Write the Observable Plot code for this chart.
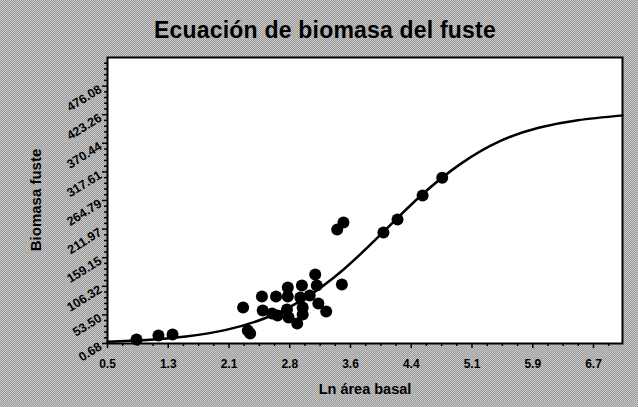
<!DOCTYPE html>
<html><head><meta charset="utf-8">
<script src="https://cdn.jsdelivr.net/npm/d3@7"></script>
<script src="https://cdn.jsdelivr.net/npm/@observablehq/plot@0.6"></script>
<style>
body{margin:0}
#c{width:638px;height:407px;position:relative;overflow:hidden;background:repeating-conic-gradient(#9a9a9a 0 25%,#c9c9c9 0 50%) 0 0/2px 2px;font-family:"Liberation Sans",Arial,sans-serif;color:#000}
#t{position:absolute;left:12px;width:626px;top:18px;text-align:center;font-weight:bold;font-size:23px;line-height:24px;letter-spacing:0.2px}
#xl{position:absolute;left:108px;width:514px;top:380px;text-align:center;font-weight:bold;font-size:14.5px;line-height:18px}
#yl{position:absolute;left:36px;top:200px;font-weight:bold;font-size:15px;line-height:18px;white-space:nowrap;transform:translate(-50%,-50%) rotate(-90deg)}
#p{position:absolute;left:0;top:50px}
</style></head><body>
<div id="c"><div id="t">Ecuación de biomasa del fuste</div><div id="p"></div>
<div id="xl">Ln área basal</div><div id="yl">Biomasa fuste</div></div>
<script>
// observed points (Ln área basal, Biomasa fuste)
const ptsX = [0.87,1.15,1.33,2.23,2.29,2.32,2.47,2.48,2.65,2.67,2.60,2.80,2.80,2.79,2.81,2.92,2.98,2.96,2.99,2.99,3.08,3.15,3.17,3.19,3.29,3.49,3.43,3.51,4.02,4.20,4.52,4.77];
const ptsY = [8.1,15.5,17.3,67.2,24.7,19.1,87.5,61.6,87.5,52.4,56.1,104,87.5,63.5,48.7,37.6,107.8,85.6,67.2,54.2,89.3,128,107.8,74.5,59.8,109.6,211,224,205.7,229.7,274,307];
// fitted curve
const curveX = [0.5,1.0,1.5,2.0,2.5,3.0,3.5,4.0,4.5,5.0,5.5,6.0,6.5,7.07];
const curveY = [3.7,7.0,13.5,25.4,46.9,82.7,136,204,274,332,374,399,413,422];
// tick labels
const xTickLabels = ["0.5","1.3","2.1","2.8","3.6","4.4","5.1","5.9","6.7"];
const yTickLabels = ["0.68","53.50","106.32","159.15","211.97","264.79","317.61","370.44","423.26","476.08"];

const points = ptsX.map((x,i)=>({x, y: ptsY[i]}));
const curve = curveX.map((x,i)=>({x, y: curveY[i]}));
const xStep = 0.775;
const xTicks = xTickLabels.map((_,i)=> 0.5 + i*xStep);
const xLabelMap = new Map(xTicks.map((v,i)=>[v, xTickLabels[i]]));
const xMinor = [];
for (let i=0;i<xTicks.length+1;i++) for (let j=1;j<4;j++) xMinor.push(0.5 + i*xStep + j*xStep/4);
const yTicks = yTickLabels.map(Number);
const yStep = yTicks[1]-yTicks[0];
const yMinor = [];
for (let i=0;i<yTicks.length;i++) for (let j=1;j<5;j++) yMinor.push(yTicks[i] + j*yStep/5);

const chart = Plot.plot({
  width:638, height:357, marginTop:7, marginLeft:107, marginRight:16, marginBottom:64,
  style:{background:"transparent", fontFamily:"Liberation Sans, Arial, sans-serif", fontWeight:"bold", fontSize:"12px", color:"black"},
  x:{domain:[0.5,7.07]},
  y:{domain:[0.68,528.9]},
  marks:[
    Plot.frame({fill:"white", stroke:"none"}),
    Plot.axisX({ticks: xMinor.filter(v=>v<7.07), tickSize:3, tickFormat:()=>"", label:null, strokeWidth:1.5}),
    Plot.axisX({ticks: xTicks, tickSize:5, tickPadding:11, tickFormat:d=>xLabelMap.get(d), label:null, strokeWidth:1.5}),
    Plot.axisY({ticks: yMinor.filter(v=>v<528.9), tickSize:3, tickFormat:()=>"", label:null, strokeWidth:1.5}),
    Plot.axisY({ticks: yTicks, tickSize:5, tickFormat:()=>"", label:null, strokeWidth:1.5}),
    Plot.text(yTicks, {y:d=>d, frameAnchor:"left", text:d=>d.toFixed(2), rotate:-32, textAnchor:"end", lineAnchor:"middle", dx:-7, dy:2, fontSize:12.5, fontWeight:"bold", fill:"black"}),
    Plot.line(curve, {x:"x", y:"y", stroke:"black", strokeWidth:2.5, curve:"natural"}),
    Plot.dot(points, {x:"x", y:"y", r:6, fill:"black"}),
    Plot.frame({stroke:"black", strokeWidth:2})
  ]
});
document.getElementById("p").appendChild(chart);
</script>
</body></html>
